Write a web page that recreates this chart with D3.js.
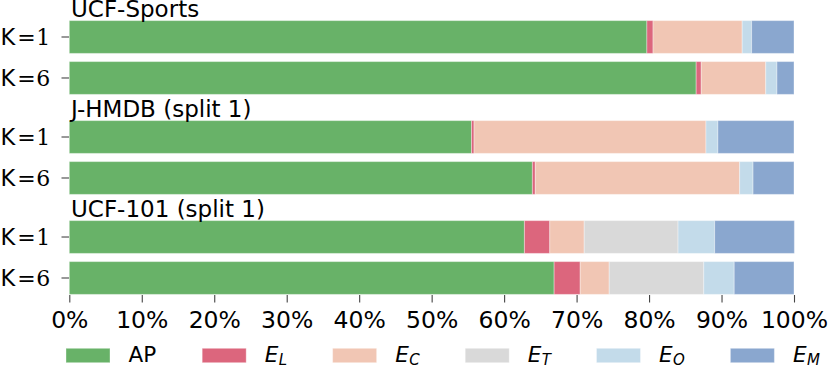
<!DOCTYPE html>
<html>
<head>
<meta charset="utf-8">
<script src="https://cdn.jsdelivr.net/npm/d3@7"></script>
<style>
  html, body { margin: 0; padding: 0; background: #fff; }
  svg { display: block; }
  text { font-family: "DejaVu Sans", sans-serif; fill: #000; }
</style>
</head>
<body>
<svg id="chart" width="830" height="366"></svg>
<script>
// ---- data ----
const groups = ["UCF-Sports", "J-HMDB (split 1)", "UCF-101 (split 1)"];
const kLabels = ["1", "6"];
const seriesNames = ["AP", "E_L", "E_C", "E_T", "E_O", "E_M"];
const seriesColors = ["#68b268", "#dc667d", "#f1c6b4", "#d9d9d9", "#c3dbea", "#8aa7cf"];
// rows: [group][k] -> percentages per series
const AP  = [[79.7, 86.5], [55.5, 63.9], [62.8, 66.9]];
const E_L = [[0.85, 0.7],  [0.35, 0.4],  [3.5, 3.6]];
const E_C = [[12.3, 8.9],  [32.0, 28.2], [4.75, 4.0]];
const E_T = [[0, 0],       [0, 0],       [12.95, 13.05]];
const E_O = [[1.3, 1.55],  [1.65, 1.85], [5.05, 4.2]];
const E_M = [[5.85, 2.35], [10.5, 5.65], [11.0, 8.25]];
const xTicks = [0, 10, 20, 30, 40, 50, 60, 70, 80, 90, 100];

const seriesData = [AP, E_L, E_C, E_T, E_O, E_M];

// ---- layout ----
const svg = d3.select("#chart");
const groupStep = 2.44; // in row units
const x = d3.scaleLinear().domain([0, 100]).range([69.3, 794]);
const y = d3.scaleLinear().domain([0, 2 * groupStep + 1]).range([37, 278]);
const unit = y(1) - y(0);
const barH = unit * 0.8;

const rows = [];
groups.forEach((g, gi) => {
  kLabels.forEach((k, ki) => {
    let cum = 0;
    const segs = seriesData.map((s, si) => {
      const v = s[gi][ki];
      const seg = { si, x0: cum, x1: cum + v };
      cum += v;
      return seg;
    });
    rows.push({ gi, ki, k, pos: gi * groupStep + ki, segs });
  });
});

// bars
const rowG = svg.append("g").selectAll("g").data(rows).join("g");
rowG.selectAll("rect")
  .data(d => d.segs.filter(s => s.x1 > s.x0).map(s => ({ ...s, pos: d.pos })))
  .join("rect")
  .attr("x", d => x(d.x0))
  .attr("width", d => x(d.x1) - x(d.x0))
  .attr("y", d => y(d.pos) - barH / 2)
  .attr("height", barH)
  .attr("fill", d => seriesColors[d.si])
  .attr("stroke", "#ffffff")
  .attr("stroke-opacity", 0.35)
  .attr("stroke-width", 1);

// group titles
svg.append("g").selectAll("text").data(groups).join("text")
  .attr("x", 71)
  .attr("y", (d, i) => y(i * groupStep) - barH / 2 - 4)
  .attr("font-size", 23)
  .text(d => d);

// y ticks and labels
const yAx = svg.append("g");
yAx.selectAll("line").data(rows).join("line")
  .attr("x1", 61.5).attr("x2", 69)
  .attr("y1", d => y(d.pos)).attr("y2", d => y(d.pos))
  .attr("stroke", "#444").attr("stroke-width", 1.1);
const yl = yAx.selectAll("text").data(rows).join("text")
  .attr("x", 0.5)
  .attr("y", d => y(d.pos))
  .attr("dy", "0.36em")
  .attr("text-anchor", "start")
  .attr("font-size", 22.5);
yl.append("tspan").text("K");
yl.append("tspan").attr("font-family", "'DejaVu Serif', serif").attr("font-size", 22).attr("dx", 2).text("=");
yl.append("tspan").attr("font-family", "'DejaVu Serif', serif").attr("font-size", 22).attr("dx", 0.5).text(d => d.k);

// x axis (no domain line)
const xAxis = d3.axisBottom(x).tickValues(xTicks).tickFormat(d => d + "%").tickSize(7.5).tickPadding(9);
const xg = svg.append("g").attr("transform", "translate(0,295)").call(xAxis);
xg.select(".domain").remove();
xg.selectAll(".tick line").attr("stroke", "#444").attr("stroke-width", 1.1);
xg.selectAll(".tick text").attr("font-size", 23.5).attr("font-family", "'DejaVu Sans', sans-serif").attr("fill", "#000");

// legend
const leg = svg.append("g");
let lx = 66;
seriesNames.forEach((name, i) => {
  leg.append("rect")
    .attr("x", lx).attr("y", 348.3).attr("width", 44).attr("height", 14.4)
    .attr("fill", seriesColors[i])
    .attr("stroke", "#ffffff").attr("stroke-opacity", 0.35);
  const t = leg.append("text").attr("x", lx + 62.5).attr("y", 362).attr("font-size", 21.5);
  if (name.includes("_")) {
    const [a, b] = name.split("_");
    t.append("tspan").attr("font-style", "oblique").text(a);
    t.append("tspan").attr("font-style", "oblique").attr("font-size", 15).attr("dy", 2.8).attr("dx", 0.5).text(b);
  } else {
    t.text(name);
  }
  const w = t.node().getComputedTextLength();
  lx = lx + 62.5 + w + 46;
});
</script>
</body>
</html>
